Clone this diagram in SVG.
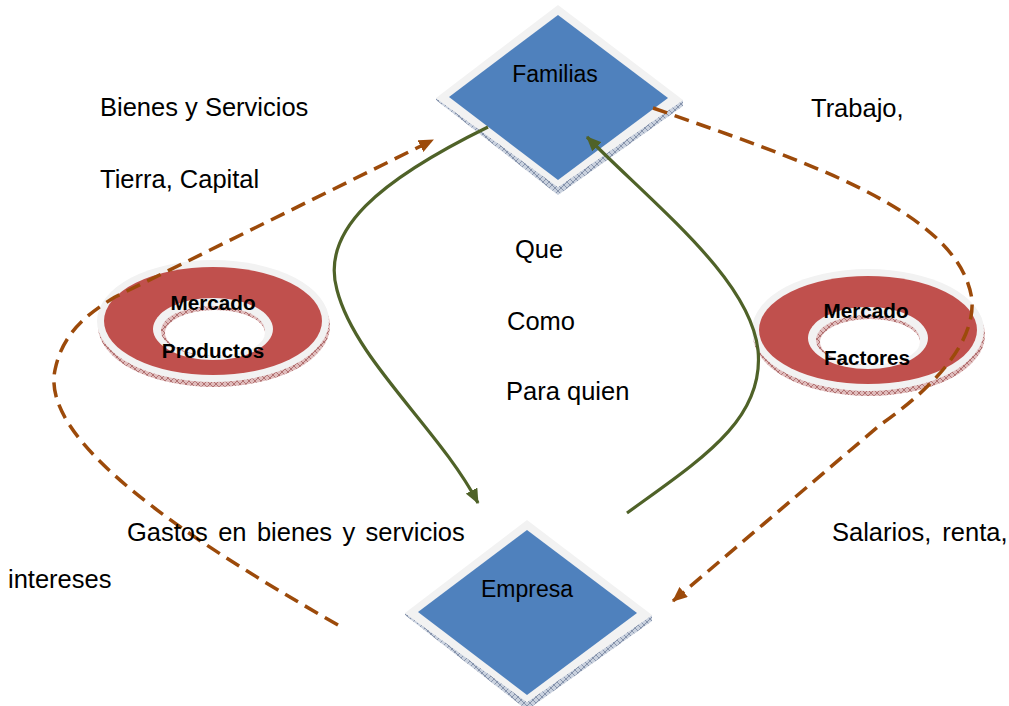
<svg xmlns="http://www.w3.org/2000/svg" width="1009" height="706" viewBox="0 0 1009 706">
<defs>
<style>
.t{font-family:"Liberation Sans",Arial,sans-serif;font-size:25.5px;fill:#000}
.dt{font-family:"Liberation Sans",Arial,sans-serif;font-size:23px;fill:#000;text-anchor:middle}
.mt{font-family:"Liberation Sans",Arial,sans-serif;font-size:20.7px;font-weight:bold;fill:#000;text-anchor:middle}
.bevel{fill:#f2f2f2}
.blue{fill:#4f81bd}
.red{fill:#c0504d}
.dash{fill:none;stroke:#9c4a0a;stroke-width:3.5;stroke-dasharray:15 8}
.green{fill:none;stroke:#4f6228;stroke-width:3.2}
</style>
<pattern id="hb" width="6" height="6" patternUnits="userSpaceOnUse">
<rect width="6" height="6" fill="#c9d1de"/>
<path d="M0,6 L6,0 M0,0 L6,6" stroke="#6a7a96" stroke-width="0.7"/>
</pattern>
<pattern id="hr" width="6" height="6" patternUnits="userSpaceOnUse">
<rect width="6" height="6" fill="#e0bcbc"/>
<path d="M0,6 L6,0 M0,0 L6,6" stroke="#9c5050" stroke-width="0.7"/>
</pattern>
<marker id="ab" viewBox="0 0 15 13" refX="14" refY="6.5" markerWidth="15" markerHeight="13" markerUnits="userSpaceOnUse" orient="auto">
<path d="M0,0 L15,6.5 L0,13 Z" fill="#9c4a0a"/>
</marker>
<marker id="ag" viewBox="0 0 15 13" refX="14" refY="6.5" markerWidth="15" markerHeight="13" markerUnits="userSpaceOnUse" orient="auto">
<path d="M0,0 L15,6.5 L0,13 Z" fill="#4f6228"/>
</marker>
<g id="diamond">
<polygon points="-122,93 0,182 125,95 125,101 0,190 -122,95" fill="url(#hb)"/>
<polygon class="bevel" points="0,0 125,95 0,182 -122,93"/>
<polygon class="blue" points="0,10 110,93 0,175 -109,92"/>
</g>
<g id="donut">
<ellipse cx="1" cy="5" rx="116" ry="61" fill="url(#hr)"/>
<ellipse class="bevel" cx="0" cy="0" rx="116" ry="61"/>
<ellipse class="red" cx="0" cy="0" rx="109" ry="54"/>
<ellipse class="bevel" cx="0" cy="8" rx="60" ry="31"/>
<ellipse fill="url(#hr)" cx="0" cy="10" rx="52" ry="25"/>
<ellipse fill="#fff" cx="2" cy="12" rx="50" ry="23"/>
</g>
</defs>
<rect width="1009" height="706" fill="#fff"/>

<g id="familias">
<use href="#diamond" transform="translate(558,5)"/>
<text class="dt" x="555" y="82">Familias</text>
</g>
<g id="empresa">
<use href="#diamond" transform="translate(527,520)"/>
<text class="dt" x="527" y="597">Empresa</text>
</g>
<g id="mercado-productos">
<use href="#donut" transform="translate(213,321)"/>
<text class="mt" x="213" y="310">Mercado</text>
<text class="mt" x="213" y="358">Productos</text>
</g>
<g id="mercado-factores">
<use href="#donut" transform="translate(868,330)"/>
<text class="mt" x="866" y="318">Mercado</text>
<text class="mt" x="867" y="365">Factores</text>
</g>

<g id="connectors">
<path class="dash" d="M338,625 C180,535 40,440 55,370 C62,335 85,315 115,297 L433,140" marker-end="url(#ab)"/>
<path class="dash" d="M653,108 C800,160 960,210 972,300 C975,345 930,390 880,425 L673,601" marker-end="url(#ab)"/>
<path class="green" d="M488,127 C380,180 320,230 337,290 C355,360 440,430 478,503" marker-end="url(#ag)"/>
<path class="green" d="M627,513 C700,460 765,420 758,350 C750,280 660,210 587,137" marker-end="url(#ag)"/>
</g>

<g id="labels">
<text class="t" x="100" y="116">Bienes y Servicios</text>
<text class="t" x="100" y="188">Tierra, Capital</text>
<text class="t" x="811" y="117">Trabajo,</text>
<text class="t" x="515" y="258">Que</text>
<text class="t" x="507" y="330">Como</text>
<text class="t" x="506" y="400">Para quien</text>
<text class="t" x="127" y="541" word-spacing="3.3">Gastos en bienes y servicios</text>
<text class="t" x="832" y="541" word-spacing="4">Salarios, renta,</text>
<text class="t" x="8" y="588">intereses</text>
</g>
</svg>
